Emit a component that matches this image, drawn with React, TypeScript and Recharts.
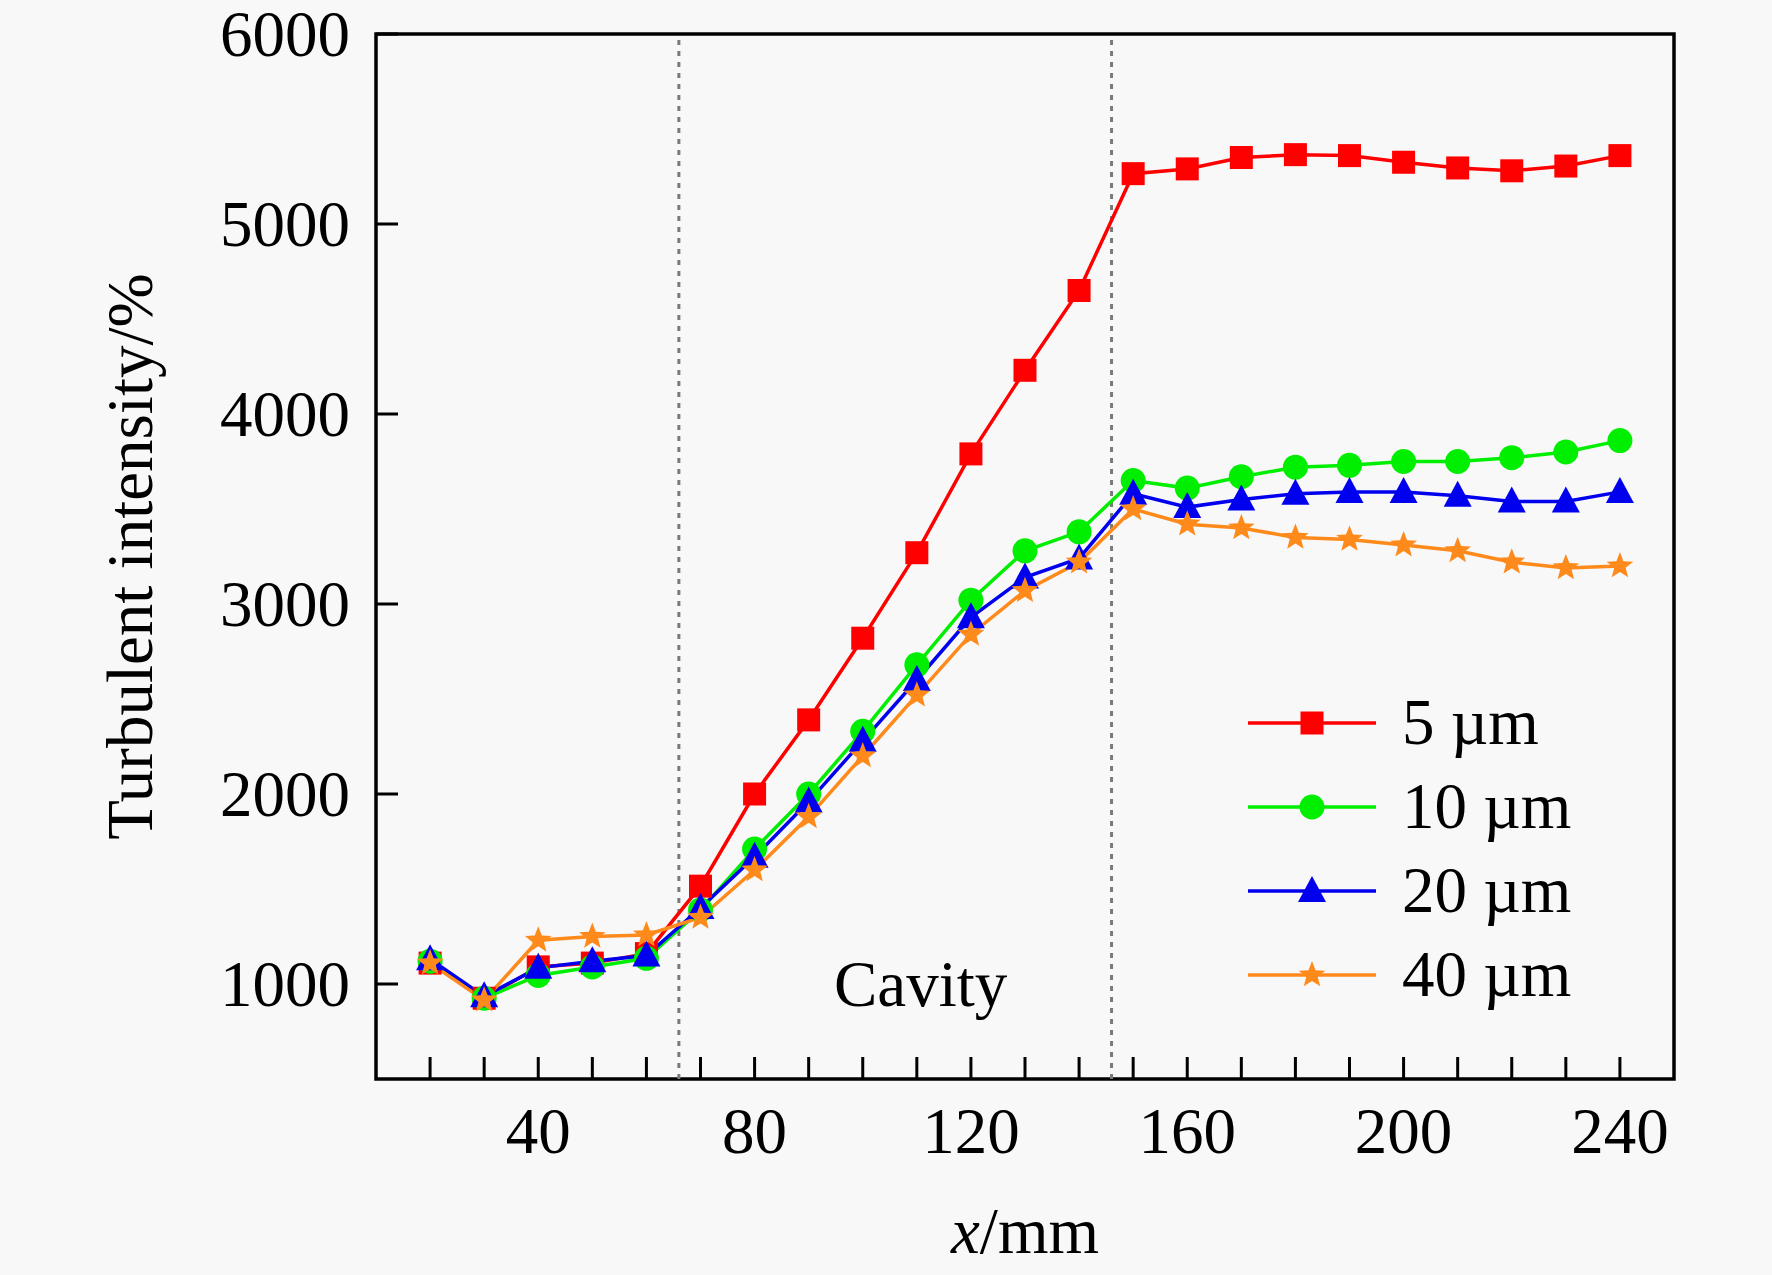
import React from 'react';
import {
  LineChart,
  Line,
  XAxis,
  YAxis,
  ReferenceLine,
  ReferenceArea,
  ReferenceDot,
  Legend,
} from 'recharts';

// ---------- data ----------
const X_MM = [20, 30, 40, 50, 60, 70, 80, 90, 100, 110, 120, 130, 140, 150, 160, 170, 180, 190, 200, 210, 220, 230, 240];
const S_5UM = [1110, 925, 1090, 1110, 1160, 1515, 2000, 2390, 2820, 3270, 3790, 4230, 4650, 5265, 5290, 5350, 5365, 5360, 5325, 5295, 5280, 5305, 5360];
const S_10UM = [1120, 925, 1045, 1090, 1135, 1390, 1710, 2000, 2330, 2680, 3020, 3280, 3380, 3650, 3610, 3670, 3720, 3730, 3750, 3750, 3770, 3800, 3860];
const S_20UM = [1130, 935, 1085, 1120, 1150, 1400, 1670, 1960, 2280, 2600, 2930, 3140, 3240, 3580, 3510, 3550, 3580, 3590, 3590, 3570, 3540, 3540, 3590];
const S_40UM = [1110, 915, 1230, 1250, 1258, 1350, 1600, 1880, 2200, 2520, 2840, 3070, 3220, 3500, 3420, 3400, 3350, 3340, 3310, 3280, 3220, 3190, 3200];

const SERIES_KEYS = ['s5', 's10', 's20', 's40'];
const SERIES_NAMES = ['5 µm', '10 µm', '20 µm', '40 µm'];
const SERIES_COLORS = ['#ff0000', '#00ee00', '#0000ee', '#ff8a1c'];
const SERIES_SHAPES = ['square', 'circle', 'triangle', 'star'];

const X_TICKS = [20, 30, 40, 50, 60, 70, 80, 90, 100, 110, 120, 130, 140, 150, 160, 170, 180, 190, 200, 210, 220, 230, 240];
const X_LABELED = [40, 80, 120, 160, 200, 240];
const Y_TICKS = [1000, 2000, 3000, 4000, 5000, 6000];
const X_DOMAIN = [10, 250];
const Y_DOMAIN = [500, 6000];
const CAVITY_EDGES = [66, 146];
const CAVITY_LABEL_POS = { x: 110.7, y: 1007 };

const data = X_MM.map((x, i) => ({
  x,
  s5: S_5UM[i],
  s10: S_10UM[i],
  s20: S_20UM[i],
  s40: S_40UM[i],
}));

// ---------- layout ----------
const W = 1772;
const H = 1275;
const PLOT_LEFT = 376;
const PLOT_RIGHT = 1674;
const PLOT_TOP = 34;
const PLOT_BOTTOM = 1079;
const FONT = '"Liberation Serif", "Times New Roman", Times, serif';
const FS = 65;
const TICK_LEN = 22;
const BG = '#f8f8f8';

// ---------- marker shapes ----------
function starPath(cx: number, cy: number, R: number, r: number) {
  let d = '';
  for (let k = 0; k < 10; k++) {
    const rad = k % 2 === 0 ? R : r;
    const a = -Math.PI / 2 + (k * Math.PI) / 5;
    const px = cx + rad * Math.cos(a);
    const py = cy + rad * Math.sin(a);
    d += (k === 0 ? 'M' : 'L') + px.toFixed(2) + ',' + py.toFixed(2);
  }
  return d + 'Z';
}

function Marker({ shape, cx, cy, color }: { shape: string; cx: number; cy: number; color: string }) {
  if (shape === 'square') {
    return <rect x={cx - 11.5} y={cy - 11.5} width={23} height={23} fill={color} />;
  }
  if (shape === 'circle') {
    return <circle cx={cx} cy={cy} r={12.5} fill={color} />;
  }
  if (shape === 'triangle') {
    return (
      <polygon
        points={`${cx},${cy - 15} ${cx - 14},${cy + 11} ${cx + 14},${cy + 11}`}
        fill={color}
      />
    );
  }
  return <path d={starPath(cx, cy, 14, 6)} fill={color} />;
}

const makeDot = (shape: string, color: string) => (props: any) => {
  const { cx, cy, index } = props;
  if (cx == null || cy == null) return <g key={`d-${shape}-${index}`} />;
  return (
    <g key={`d-${shape}-${index}`}>
      <Marker shape={shape} cx={cx} cy={cy} color={color} />
    </g>
  );
};

// ---------- ticks ----------
const XTick = (props: any) => {
  const { x, payload } = props;
  const v = payload.value;
  return (
    <g>
      <line x1={x} x2={x} y1={PLOT_BOTTOM} y2={PLOT_BOTTOM - TICK_LEN} stroke="#000" strokeWidth={3} />
      {X_LABELED.includes(v) && (
        <text x={x} y={1153} textAnchor="middle" fontFamily={FONT} fontSize={FS} fill="#000">
          {v}
        </text>
      )}
    </g>
  );
};

const YTick = (props: any) => {
  const { y, payload } = props;
  return (
    <g>
      <line x1={PLOT_LEFT} x2={PLOT_LEFT + TICK_LEN} y1={y} y2={y} stroke="#000" strokeWidth={3} />
      <text x={350} y={y + 22} textAnchor="end" fontFamily={FONT} fontSize={FS} fill="#000">
        {payload.value}
      </text>
    </g>
  );
};

const XLabel = () => (
  <text x={(PLOT_LEFT + PLOT_RIGHT) / 2} y={1253} textAnchor="middle" fontFamily={FONT} fontSize={FS} fill="#000">
    <tspan fontStyle="italic">x</tspan>
    <tspan>/mm</tspan>
  </text>
);

const YLabel = () => {
  const cx = 152;
  const cy = (PLOT_TOP + PLOT_BOTTOM) / 2;
  return (
    <text
      x={cx}
      y={cy}
      transform={`rotate(-90 ${cx} ${cy})`}
      textAnchor="middle"
      fontFamily={FONT}
      fontSize={FS}
      fill="#000"
    >
      Turbulent intensity/%
    </text>
  );
};

// ---------- legend ----------
const LEG_LEFT = 1230;
const LEG_TOP = 680;
const LegendContent = () => (
  <svg width={500} height={340} style={{ overflow: 'visible' }}>
    {SERIES_NAMES.map((name, i) => {
      const y = 43 + i * 84;
      return (
        <g key={name}>
          <line x1={18} x2={146} y1={y} y2={y} stroke={SERIES_COLORS[i]} strokeWidth={3.5} />
          <Marker shape={SERIES_SHAPES[i]} cx={82} cy={y} color={SERIES_COLORS[i]} />
          <text x={172} y={y + 21} fontFamily={FONT} fontSize={FS} fill="#000">
            {name}
          </text>
        </g>
      );
    })}
  </svg>
);

export default function App() {
  return (
    <div style={{ position: 'absolute', left: 0, top: 0, width: W, height: H, background: BG }}>
      <LineChart
        width={W}
        height={H}
        data={data}
        margin={{ top: PLOT_TOP, right: W - PLOT_RIGHT, bottom: 0, left: 0 }}
      >
        <XAxis
          dataKey="x"
          type="number"
          domain={X_DOMAIN}
          ticks={X_TICKS}
          interval={0}
          height={H - PLOT_BOTTOM}
          axisLine={false}
          tickLine={false}
          tick={<XTick />}
          allowDataOverflow
          label={<XLabel />}
        />
        <YAxis
          type="number"
          domain={Y_DOMAIN}
          ticks={Y_TICKS}
          interval={0}
          width={PLOT_LEFT}
          axisLine={false}
          tickLine={false}
          tick={<YTick />}
          allowDataOverflow
          label={<YLabel />}
        />
        {CAVITY_EDGES.map((e) => (
          <ReferenceLine
            key={e}
            x={e}
            stroke="#7a7a7a"
            strokeWidth={3}
            strokeDasharray="5 6"
          />
        ))}
        <ReferenceDot
          x={CAVITY_LABEL_POS.x}
          y={CAVITY_LABEL_POS.y}
          r={0}
          fill="none"
          stroke="none"
          label={{ value: 'Cavity', position: 'center', fontSize: FS, fontFamily: FONT, fill: '#000' }}
        />
        {SERIES_KEYS.map((k, i) => (
          <Line
            key={k}
            dataKey={k}
            name={SERIES_NAMES[i]}
            stroke={SERIES_COLORS[i]}
            strokeWidth={3.5}
            dot={makeDot(SERIES_SHAPES[i], SERIES_COLORS[i])}
            activeDot={false}
            isAnimationActive={false}
          />
        ))}
        <ReferenceArea
          x1={X_DOMAIN[0]}
          x2={X_DOMAIN[1]}
          y1={Y_DOMAIN[0]}
          y2={Y_DOMAIN[1]}
          fill="none"
          fillOpacity={0}
          stroke="#000"
          strokeWidth={3.5}
          ifOverflow="visible"
        />
        <Legend
          layout="vertical"
          align="center"
          verticalAlign="middle"
          wrapperStyle={{ left: LEG_LEFT, top: LEG_TOP, width: 500, height: 340 }}
          content={<LegendContent />}
        />
      </LineChart>
    </div>
  );
}
